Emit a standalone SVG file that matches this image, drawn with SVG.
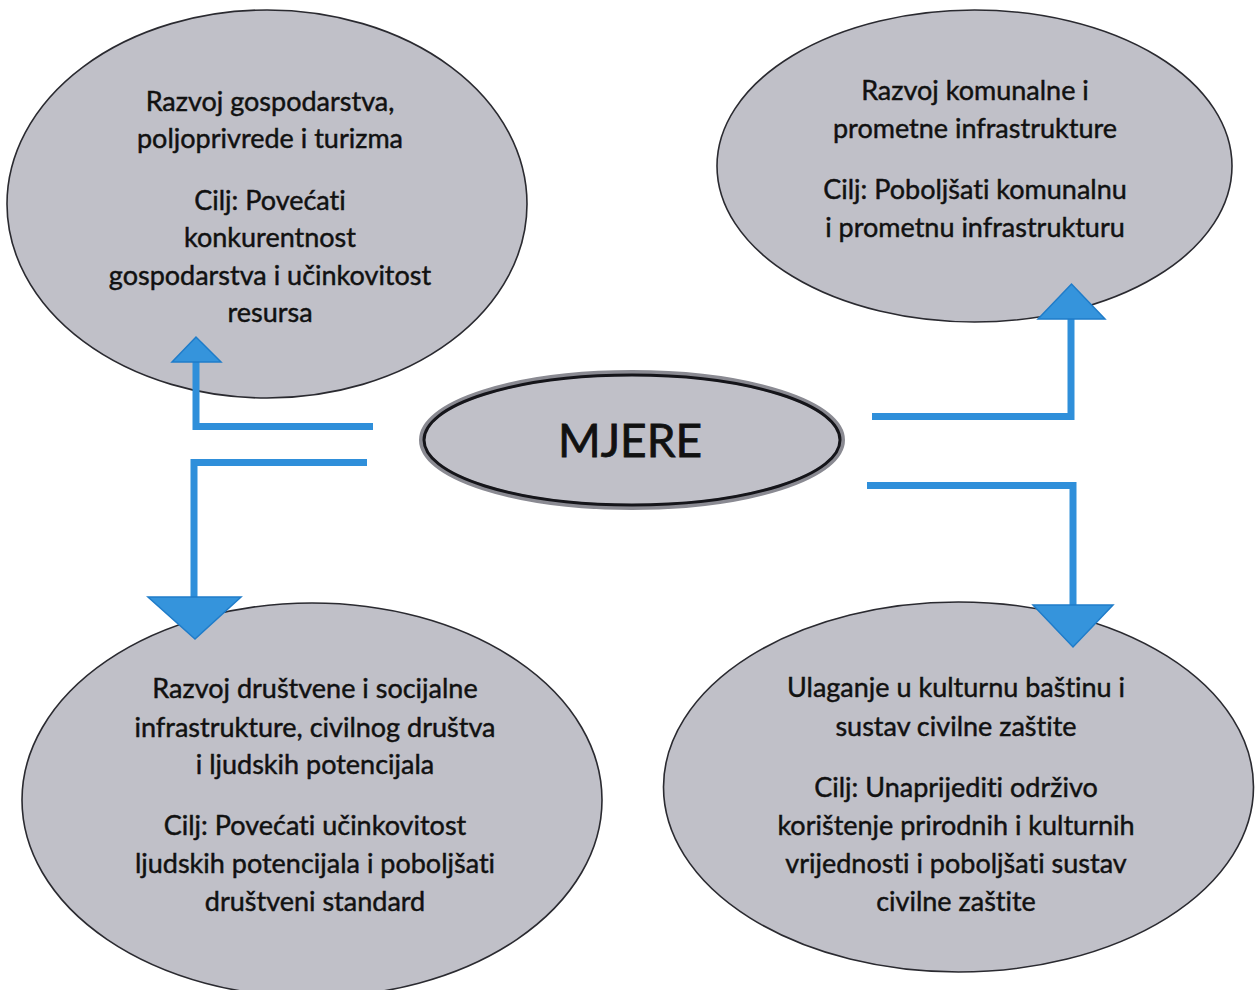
<svg xmlns="http://www.w3.org/2000/svg" width="1255" height="990" viewBox="0 0 1255 990">
<style>
.bubble{fill:#c0c0c8;stroke:#2a2a30;stroke-width:1.6}
.t{font-family:Lato,"Open Sans","Liberation Sans",sans-serif;font-size:27px;fill:#111;stroke:#111;stroke-width:0.45;text-anchor:middle;font-variant-ligatures:none;font-feature-settings:"liga" 0,"dlig" 0}
.big{font-family:Lato,"Open Sans","Liberation Sans",sans-serif;font-size:46px;fill:#111;stroke:#111;stroke-width:0.8;text-anchor:middle;font-variant-ligatures:none}
.wire{fill:none;stroke:#2f8fda;stroke-width:7;stroke-linejoin:miter;stroke-linecap:butt}
.head{fill:#3594dc;stroke:#1f7cc9;stroke-width:1.5;stroke-linejoin:miter}
</style>
<rect width="1255" height="990" fill="#ffffff"/>
<g id="node-gospodarstvo">
<ellipse class="bubble" cx="267" cy="204" rx="260" ry="194"/>
<text class="t" x="270" y="111">Razvoj gospodarstva,</text>
<text class="t" x="270" y="148">poljoprivrede i turizma</text>
<text class="t" x="270" y="210">Cilj: Povećati</text>
<text class="t" x="270" y="247">konkurentnost</text>
<text class="t" x="270" y="285">gospodarstva i učinkovitost</text>
<text class="t" x="270" y="322">resursa</text>
</g>
<g id="node-komunalna">
<ellipse class="bubble" cx="974.5" cy="166" rx="257.5" ry="156"/>
<text class="t" x="975" y="100">Razvoj komunalne i</text>
<text class="t" x="975" y="137.5">prometne infrastrukture</text>
<text class="t" x="975" y="199">Cilj: Poboljšati komunalnu</text>
<text class="t" x="975" y="236.5">i prometnu infrastrukturu</text>
</g>
<g id="node-drustvena">
<ellipse class="bubble" cx="312" cy="800" rx="290" ry="197"/>
<text class="t" x="315" y="698">Razvoj društvene i socijalne</text>
<text class="t" x="315" y="736.5">infrastrukture, civilnog društva</text>
<text class="t" x="315" y="774">i ljudskih potencijala</text>
<text class="t" x="315" y="835">Cilj: Povećati učinkovitost</text>
<text class="t" x="315" y="873">ljudskih potencijala i poboljšati</text>
<text class="t" x="315" y="911">društveni standard</text>
</g>
<g id="node-bastina">
<ellipse class="bubble" cx="958.5" cy="787" rx="295" ry="185"/>
<text class="t" x="956" y="697">Ulaganje u kulturnu baštinu i</text>
<text class="t" x="956" y="735.5">sustav civilne zaštite</text>
<text class="t" x="956" y="797">Cilj: Unaprijediti održivo</text>
<text class="t" x="956" y="835">korištenje prirodnih i kulturnih</text>
<text class="t" x="956" y="873">vrijednosti i poboljšati sustav</text>
<text class="t" x="956" y="911">civilne zaštite</text>
</g>
<g id="node-mjere">
<ellipse cx="632" cy="440" rx="210" ry="67" fill="#c0c0c8" stroke="#8a8a92" stroke-width="6"/>
<ellipse cx="632" cy="440" rx="208" ry="65" fill="none" stroke="#15151a" stroke-width="3"/>
<text class="big" x="630" y="457">MJERE</text>
</g>
<g id="connectors">
<path class="wire" d="M373,426.5 H196 V362"/>
<polygon class="head" points="172,362 221,362 196,337"/>
<path class="wire" d="M367,462.5 H194 V597"/>
<polygon class="head" points="148,597 241,597 195,639"/>
<path class="wire" d="M872,416.5 H1071 V319"/>
<polygon class="head" points="1038,319 1105,319 1071.5,284"/>
<path class="wire" d="M867,485.5 H1073 V605"/>
<polygon class="head" points="1033,605 1113,605 1073,647"/>
</g>
</svg>
